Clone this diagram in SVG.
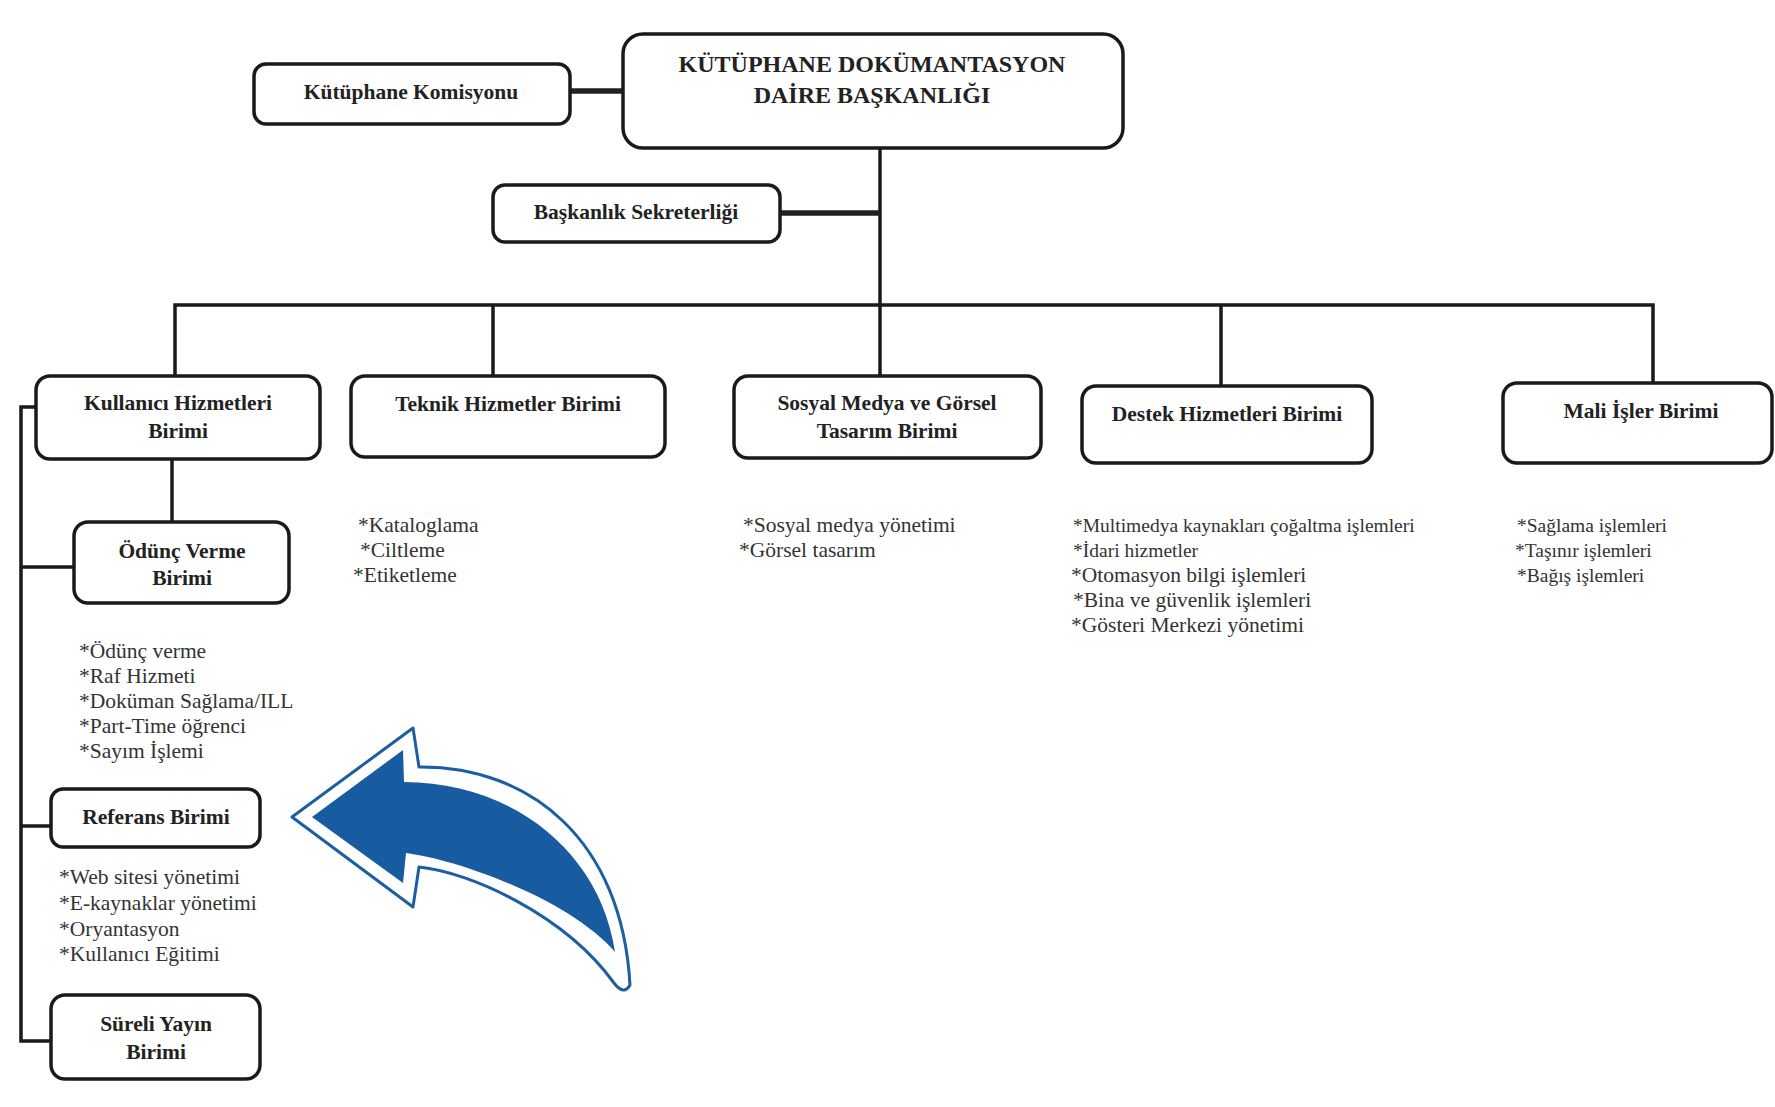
<svg xmlns="http://www.w3.org/2000/svg" width="1775" height="1107" viewBox="0 0 1775 1107">
<style>
.box{fill:#fff;stroke:#1a1a1a;stroke-width:3.5}
.lbl{font-family:"Liberation Serif","Times New Roman",serif;font-weight:bold;font-size:21.5px;fill:#222;text-anchor:middle}
.ttl{font-family:"Liberation Serif","Times New Roman",serif;font-weight:bold;font-size:24px;fill:#222;text-anchor:middle}
.li{font-family:"Liberation Serif","Times New Roman",serif;font-size:21.5px;fill:#333}
.sm{font-size:19.5px}
.ln{stroke:#1a1a1a;stroke-width:3.5;fill:none}
.dl{stroke:#222;stroke-width:5.5;fill:none}
</style>
<rect width="1775" height="1107" fill="#fff"/>
<g id="connectors">
<line class="dl" x1="570" y1="91" x2="623" y2="91"/>
<line class="ln" x1="880" y1="148" x2="880" y2="376"/>
<line class="dl" x1="780" y1="213" x2="880" y2="213"/>
<polyline class="ln" points="175,376 175,305 1653,305 1653,383"/>
<line class="ln" x1="493" y1="305" x2="493" y2="376"/>
<line class="ln" x1="1221" y1="305" x2="1221" y2="386"/>
<line class="ln" x1="172" y1="459" x2="172" y2="522"/>
<polyline class="ln" points="36,407 21,407 21,1041 51,1041"/>
<line class="ln" x1="21" y1="567" x2="74" y2="567"/>
<line class="ln" x1="21" y1="826" x2="51" y2="826"/>
</g>
<g id="main">
<rect class="box" x="623" y="34" width="500" height="114" rx="20"/>
<text class="ttl" x="872" y="72">KÜTÜPHANE DOKÜMANTASYON</text>
<text class="ttl" x="872" y="103">DAİRE BAŞKANLIĞI</text>
</g>
<g id="komisyon">
<rect class="box" x="254" y="64" width="316" height="60" rx="12"/>
<text class="lbl" x="411" y="99">Kütüphane Komisyonu</text>
</g>
<g id="sekreterlik">
<rect class="box" x="493" y="185" width="287" height="57" rx="12"/>
<text class="lbl" x="636" y="219">Başkanlık Sekreterliği</text>
</g>
<g id="kullanici">
<rect class="box" x="36" y="376" width="284" height="83" rx="14"/>
<text class="lbl" x="178" y="410">Kullanıcı Hizmetleri</text>
<text class="lbl" x="178" y="438">Birimi</text>
</g>
<g id="teknik">
<rect class="box" x="351" y="376" width="314" height="81" rx="14"/>
<text class="lbl" x="508" y="411">Teknik Hizmetler Birimi</text>
<text class="li" x="358" y="532">*Kataloglama</text>
<text class="li" x="360" y="557">*Ciltleme</text>
<text class="li" x="353" y="582">*Etiketleme</text>
</g>
<g id="sosyal">
<rect class="box" x="734" y="376" width="307" height="82" rx="14"/>
<text class="lbl" x="887" y="410">Sosyal Medya ve Görsel</text>
<text class="lbl" x="887" y="438">Tasarım Birimi</text>
<text class="li" x="743" y="532">*Sosyal medya yönetimi</text>
<text class="li" x="739" y="557">*Görsel tasarım</text>
</g>
<g id="destek">
<rect class="box" x="1082" y="386" width="290" height="77" rx="14"/>
<text class="lbl" x="1227" y="421">Destek Hizmetleri Birimi</text>
<text class="li sm" x="1073" y="532">*Multimedya kaynakları çoğaltma işlemleri</text>
<text class="li sm" x="1073" y="557">*İdari hizmetler</text>
<text class="li" x="1071" y="582">*Otomasyon bilgi işlemleri</text>
<text class="li" x="1073" y="607">*Bina ve güvenlik işlemleri</text>
<text class="li" x="1071" y="632">*Gösteri Merkezi yönetimi</text>
</g>
<g id="mali">
<rect class="box" x="1503" y="383" width="269" height="80" rx="14"/>
<text class="lbl" x="1641" y="418">Mali İşler Birimi</text>
<text class="li sm" x="1517" y="532">*Sağlama işlemleri</text>
<text class="li sm" x="1515" y="557">*Taşınır işlemleri</text>
<text class="li sm" x="1517" y="582">*Bağış işlemleri</text>
</g>
<g id="odunc">
<rect class="box" x="74" y="522" width="215" height="81" rx="14"/>
<text class="lbl" x="182" y="558">Ödünç Verme</text>
<text class="lbl" x="182" y="585">Birimi</text>
<text class="li" x="79" y="658">*Ödünç verme</text>
<text class="li" x="79" y="683">*Raf Hizmeti</text>
<text class="li" x="79" y="708">*Doküman Sağlama/ILL</text>
<text class="li" x="79" y="733">*Part-Time öğrenci</text>
<text class="li" x="79" y="758">*Sayım İşlemi</text>
</g>
<g id="referans">
<rect class="box" x="51" y="789" width="209" height="58" rx="12"/>
<text class="lbl" x="156" y="824">Referans Birimi</text>
<text class="li" x="59" y="884">*Web sitesi yönetimi</text>
<text class="li" x="59" y="910">*E-kaynaklar yönetimi</text>
<text class="li" x="59" y="936">*Oryantasyon</text>
<text class="li" x="59" y="961">*Kullanıcı Eğitimi</text>
</g>
<g id="sureli">
<rect class="box" x="51" y="995" width="209" height="84" rx="14"/>
<text class="lbl" x="156" y="1031">Süreli Yayın</text>
<text class="lbl" x="156" y="1059">Birimi</text>
</g>
<g id="arrow">
<path d="M292,817 L413,728 L419,767 C530,766 622,840 630,985 Q624,996 614,983 C565,915 470,872 419,867 L413,907 Z" fill="#fff" stroke="#1B5EA1" stroke-width="3" stroke-linejoin="round"/>
<path d="M312,817 L403,750 L404,782 C510,782 600,850 615,952 C570,900 460,860 406,853 L403,883 Z" fill="#175CA0"/>
</g>
</svg>
